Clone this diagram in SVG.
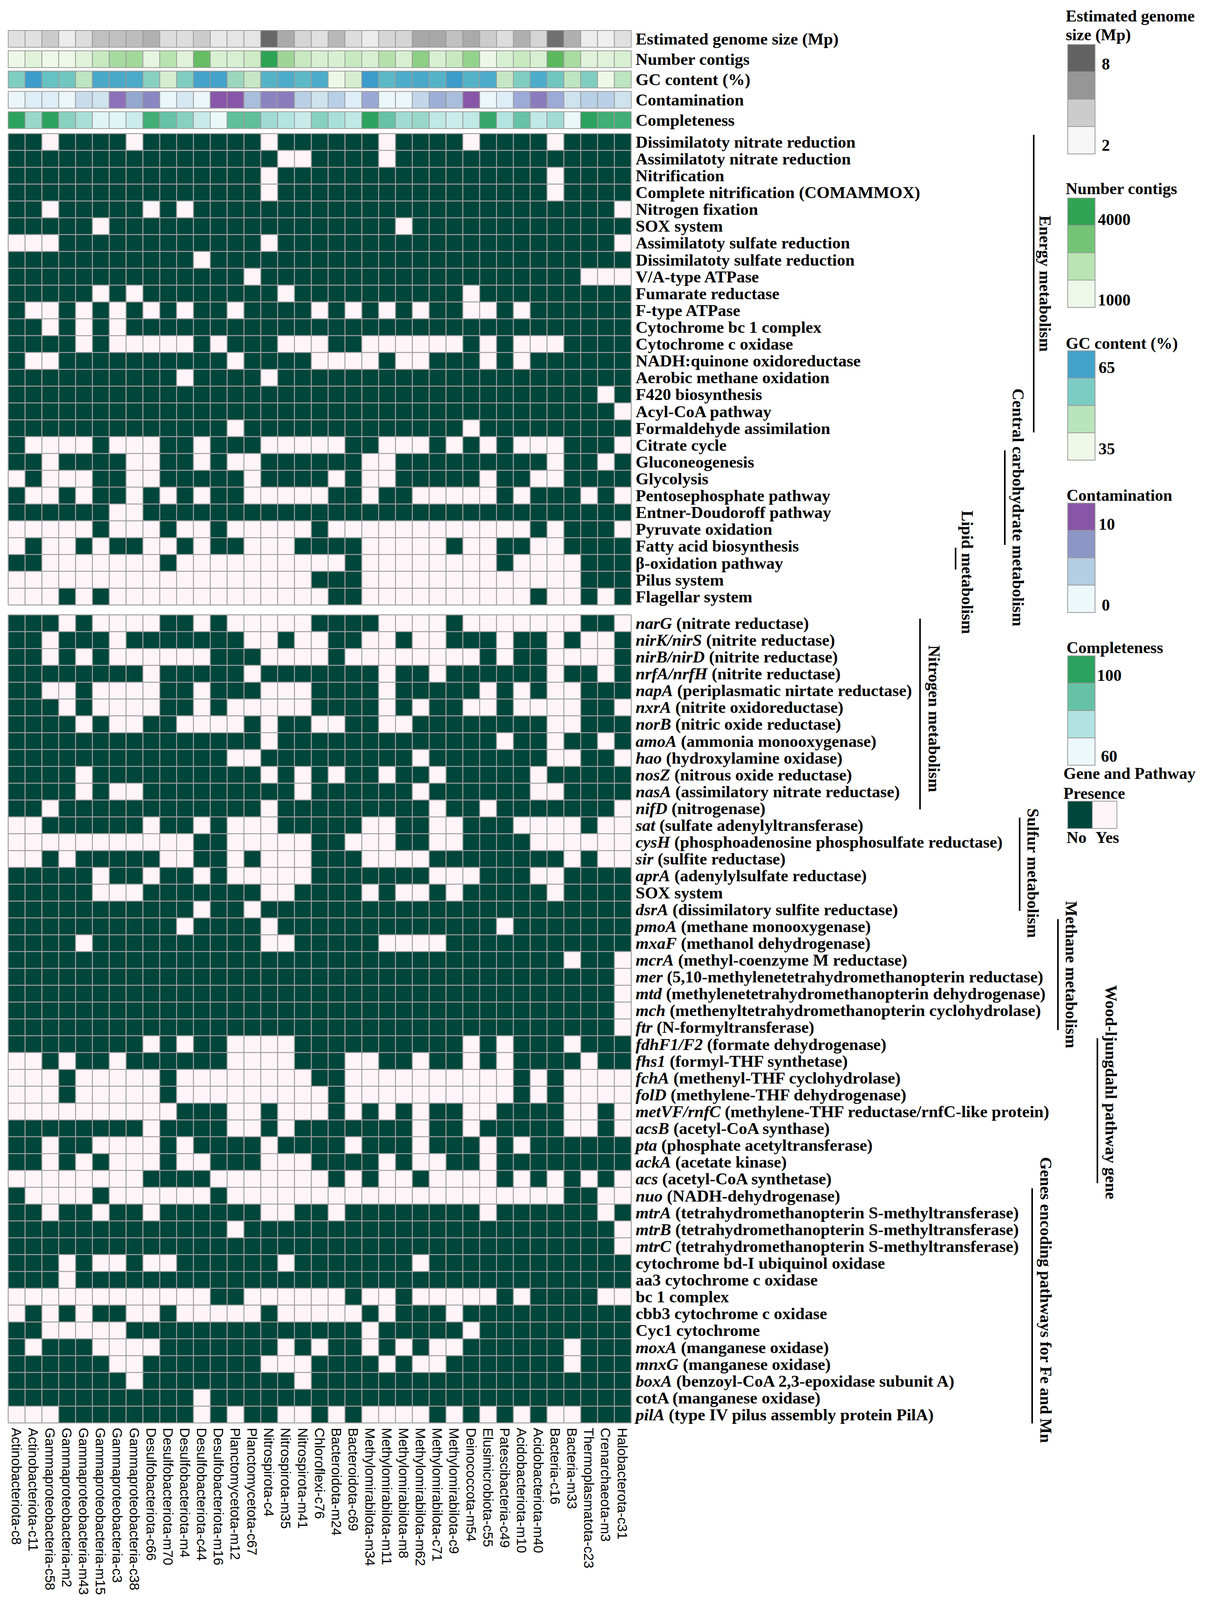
<svg xmlns="http://www.w3.org/2000/svg" width="3087" height="4148" viewBox="0 0 3087 4148">
<style>
.lbl{font-family:"Liberation Serif",serif;font-weight:bold;font-size:43px;fill:#000}
.leg{font-family:"Liberation Serif",serif;font-weight:bold;font-size:42px;fill:#000}
.cat{font-family:"Liberation Serif",serif;font-weight:bold;font-size:42px;fill:#000}
.col{font-family:"Liberation Sans",sans-serif;font-size:35px;fill:#000}
.an rect{stroke:#9a9a9a;stroke-width:2;vector-effect:non-scaling-stroke}
.dk{fill:#00463a}
.grid{fill:none;stroke:#a0a0a0;stroke-width:2.5;vector-effect:non-scaling-stroke}
.br{stroke:#000;stroke-width:4}
.lg rect{stroke:#999;stroke-width:2}
</style>
<rect width="3087" height="4148" fill="#fff"/>

<g id="annotations" class="an">
<g transform="translate(21,78) scale(43.1,43)">
<rect x="0" width="1" height="1" fill="#e0e0e0"/><rect x="1" width="1" height="1" fill="#e0e0e0"/><rect x="2" width="1" height="1" fill="#cccccc"/><rect x="3" width="1" height="1" fill="#ececec"/><rect x="4" width="1" height="1" fill="#dddddd"/><rect x="5" width="1" height="1" fill="#c0c0c0"/><rect x="6" width="1" height="1" fill="#c0c0c0"/><rect x="7" width="1" height="1" fill="#bdbdbd"/><rect x="8" width="1" height="1" fill="#b0b0b0"/><rect x="9" width="1" height="1" fill="#dddddd"/><rect x="10" width="1" height="1" fill="#dddddd"/><rect x="11" width="1" height="1" fill="#cccccc"/><rect x="12" width="1" height="1" fill="#e8e8e8"/><rect x="13" width="1" height="1" fill="#e5e5e5"/><rect x="14" width="1" height="1" fill="#e5e5e5"/><rect x="15" width="1" height="1" fill="#686868"/><rect x="16" width="1" height="1" fill="#aaaaaa"/><rect x="17" width="1" height="1" fill="#d5d5d5"/><rect x="18" width="1" height="1" fill="#e0e0e0"/><rect x="19" width="1" height="1" fill="#b8b8b8"/><rect x="20" width="1" height="1" fill="#dddddd"/><rect x="21" width="1" height="1" fill="#ececec"/><rect x="22" width="1" height="1" fill="#d5d5d5"/><rect x="23" width="1" height="1" fill="#d5d5d5"/><rect x="24" width="1" height="1" fill="#a8a8a8"/><rect x="25" width="1" height="1" fill="#a8a8a8"/><rect x="26" width="1" height="1" fill="#c0c0c0"/><rect x="27" width="1" height="1" fill="#aaaaaa"/><rect x="28" width="1" height="1" fill="#cccccc"/><rect x="29" width="1" height="1" fill="#dddddd"/><rect x="30" width="1" height="1" fill="#b0b0b0"/><rect x="31" width="1" height="1" fill="#d5d5d5"/><rect x="32" width="1" height="1" fill="#707070"/><rect x="33" width="1" height="1" fill="#b0b0b0"/><rect x="34" width="1" height="1" fill="#ececec"/><rect x="35" width="1" height="1" fill="#efefef"/><rect x="36" width="1" height="1" fill="#e0e0e0"/>
</g>
<g transform="translate(21,130) scale(43.1,43)">
<rect x="0" width="1" height="1" fill="#eef8e8"/><rect x="1" width="1" height="1" fill="#e0f3da"/><rect x="2" width="1" height="1" fill="#eef8e8"/><rect x="3" width="1" height="1" fill="#eef8e8"/><rect x="4" width="1" height="1" fill="#e0f3da"/><rect x="5" width="1" height="1" fill="#c7e9c0"/><rect x="6" width="1" height="1" fill="#a6dba0"/><rect x="7" width="1" height="1" fill="#a1d99b"/><rect x="8" width="1" height="1" fill="#e5f5e0"/><rect x="9" width="1" height="1" fill="#b8e3b0"/><rect x="10" width="1" height="1" fill="#e0f3da"/><rect x="11" width="1" height="1" fill="#66bd63"/><rect x="12" width="1" height="1" fill="#d8f0d2"/><rect x="13" width="1" height="1" fill="#d8f0d2"/><rect x="14" width="1" height="1" fill="#cdebc5"/><rect x="15" width="1" height="1" fill="#2ea354"/><rect x="16" width="1" height="1" fill="#9fd595"/><rect x="17" width="1" height="1" fill="#c7e9c0"/><rect x="18" width="1" height="1" fill="#d8f0d2"/><rect x="19" width="1" height="1" fill="#d8f0d2"/><rect x="20" width="1" height="1" fill="#c7e9c0"/><rect x="21" width="1" height="1" fill="#d8f0d2"/><rect x="22" width="1" height="1" fill="#b5e0ab"/><rect x="23" width="1" height="1" fill="#d8f0d2"/><rect x="24" width="1" height="1" fill="#8ecf86"/><rect x="25" width="1" height="1" fill="#d8f0d2"/><rect x="26" width="1" height="1" fill="#c7e9c0"/><rect x="27" width="1" height="1" fill="#93d38b"/><rect x="28" width="1" height="1" fill="#eef8e8"/><rect x="29" width="1" height="1" fill="#d8f0d2"/><rect x="30" width="1" height="1" fill="#c7e9c0"/><rect x="31" width="1" height="1" fill="#d8f0d2"/><rect x="32" width="1" height="1" fill="#5cb85c"/><rect x="33" width="1" height="1" fill="#a8dca0"/><rect x="34" width="1" height="1" fill="#e0f3da"/><rect x="35" width="1" height="1" fill="#e0f3da"/><rect x="36" width="1" height="1" fill="#d8f0d2"/>
</g>
<g transform="translate(21,182) scale(43.1,43)">
<rect x="0" width="1" height="1" fill="#7fcdc0"/><rect x="1" width="1" height="1" fill="#3c9ccc"/><rect x="2" width="1" height="1" fill="#67c2c4"/><rect x="3" width="1" height="1" fill="#71c6c0"/><rect x="4" width="1" height="1" fill="#bde5bf"/><rect x="5" width="1" height="1" fill="#4aa8c9"/><rect x="6" width="1" height="1" fill="#4aa8c9"/><rect x="7" width="1" height="1" fill="#4aaac8"/><rect x="8" width="1" height="1" fill="#87d0be"/><rect x="9" width="1" height="1" fill="#d6eecf"/><rect x="10" width="1" height="1" fill="#7fcdc0"/><rect x="11" width="1" height="1" fill="#44a2cb"/><rect x="12" width="1" height="1" fill="#44a2cb"/><rect x="13" width="1" height="1" fill="#9bd6bd"/><rect x="14" width="1" height="1" fill="#c5e7c3"/><rect x="15" width="1" height="1" fill="#55b3c8"/><rect x="16" width="1" height="1" fill="#4eaccb"/><rect x="17" width="1" height="1" fill="#5db8c6"/><rect x="18" width="1" height="1" fill="#4eaccb"/><rect x="19" width="1" height="1" fill="#eef8e6"/><rect x="20" width="1" height="1" fill="#d6eecf"/><rect x="21" width="1" height="1" fill="#3c9ccc"/><rect x="22" width="1" height="1" fill="#5db8c6"/><rect x="23" width="1" height="1" fill="#4eaccb"/><rect x="24" width="1" height="1" fill="#4aa8c9"/><rect x="25" width="1" height="1" fill="#55b3c8"/><rect x="26" width="1" height="1" fill="#3c9ccc"/><rect x="27" width="1" height="1" fill="#55b3c8"/><rect x="28" width="1" height="1" fill="#4eaccb"/><rect x="29" width="1" height="1" fill="#c5e7c3"/><rect x="30" width="1" height="1" fill="#7fcdc0"/><rect x="31" width="1" height="1" fill="#4eaccb"/><rect x="32" width="1" height="1" fill="#71c6c0"/><rect x="33" width="1" height="1" fill="#bde5bf"/><rect x="34" width="1" height="1" fill="#7fcdc0"/><rect x="35" width="1" height="1" fill="#eef8e6"/><rect x="36" width="1" height="1" fill="#bde5bf"/>
</g>
<g transform="translate(21,234) scale(43.1,43)">
<rect x="0" width="1" height="1" fill="#eaf6fa"/><rect x="1" width="1" height="1" fill="#ddeef6"/><rect x="2" width="1" height="1" fill="#ddeef6"/><rect x="3" width="1" height="1" fill="#eaf6fa"/><rect x="4" width="1" height="1" fill="#c8dcec"/><rect x="5" width="1" height="1" fill="#cfe3ef"/><rect x="6" width="1" height="1" fill="#8c70b8"/><rect x="7" width="1" height="1" fill="#94a8d0"/><rect x="8" width="1" height="1" fill="#8a86c0"/><rect x="9" width="1" height="1" fill="#eaf6fa"/><rect x="10" width="1" height="1" fill="#d6e8f2"/><rect x="11" width="1" height="1" fill="#eaf6fa"/><rect x="12" width="1" height="1" fill="#8856a8"/><rect x="13" width="1" height="1" fill="#8856a8"/><rect x="14" width="1" height="1" fill="#a8bedc"/><rect x="15" width="1" height="1" fill="#8c84c0"/><rect x="16" width="1" height="1" fill="#8a7cbc"/><rect x="17" width="1" height="1" fill="#b8d0e6"/><rect x="18" width="1" height="1" fill="#cfe3ef"/><rect x="19" width="1" height="1" fill="#b8d0e6"/><rect x="20" width="1" height="1" fill="#ddeef6"/><rect x="21" width="1" height="1" fill="#9aa8d4"/><rect x="22" width="1" height="1" fill="#eaf6fa"/><rect x="23" width="1" height="1" fill="#eaf6fa"/><rect x="24" width="1" height="1" fill="#c2d8ea"/><rect x="25" width="1" height="1" fill="#9cb0d6"/><rect x="26" width="1" height="1" fill="#a8bedc"/><rect x="27" width="1" height="1" fill="#8856a8"/><rect x="28" width="1" height="1" fill="#eaf6fa"/><rect x="29" width="1" height="1" fill="#ddeef6"/><rect x="30" width="1" height="1" fill="#9caad6"/><rect x="31" width="1" height="1" fill="#8a7cbc"/><rect x="32" width="1" height="1" fill="#9caad6"/><rect x="33" width="1" height="1" fill="#cfe3ef"/><rect x="34" width="1" height="1" fill="#b8d0e6"/><rect x="35" width="1" height="1" fill="#b8d0e6"/><rect x="36" width="1" height="1" fill="#cfe3ef"/>
</g>
<g transform="translate(21,286) scale(43.1,43)">
<rect x="0" width="1" height="1" fill="#2ca25f"/><rect x="1" width="1" height="1" fill="#99d8c9"/><rect x="2" width="1" height="1" fill="#2ca25f"/><rect x="3" width="1" height="1" fill="#88d0c0"/><rect x="4" width="1" height="1" fill="#a8e0d8"/><rect x="5" width="1" height="1" fill="#e0f5f5"/><rect x="6" width="1" height="1" fill="#e0f5f5"/><rect x="7" width="1" height="1" fill="#ccecec"/><rect x="8" width="1" height="1" fill="#41ae76"/><rect x="9" width="1" height="1" fill="#66c2a4"/><rect x="10" width="1" height="1" fill="#88d0c0"/><rect x="11" width="1" height="1" fill="#c8ebea"/><rect x="12" width="1" height="1" fill="#eaf8f8"/><rect x="13" width="1" height="1" fill="#5fbf9c"/><rect x="14" width="1" height="1" fill="#5fbf9c"/><rect x="15" width="1" height="1" fill="#a0dcd4"/><rect x="16" width="1" height="1" fill="#b4e4e0"/><rect x="17" width="1" height="1" fill="#c8ebea"/><rect x="18" width="1" height="1" fill="#88d0c0"/><rect x="19" width="1" height="1" fill="#a8e0d8"/><rect x="20" width="1" height="1" fill="#c0e8e4"/><rect x="21" width="1" height="1" fill="#2ca25f"/><rect x="22" width="1" height="1" fill="#66c2a4"/><rect x="23" width="1" height="1" fill="#a0dcd4"/><rect x="24" width="1" height="1" fill="#99d8c9"/><rect x="25" width="1" height="1" fill="#c0e8e4"/><rect x="26" width="1" height="1" fill="#ccecec"/><rect x="27" width="1" height="1" fill="#c0e8e4"/><rect x="28" width="1" height="1" fill="#38a86a"/><rect x="29" width="1" height="1" fill="#b4e4e0"/><rect x="30" width="1" height="1" fill="#66c2a4"/><rect x="31" width="1" height="1" fill="#c0e8e4"/><rect x="32" width="1" height="1" fill="#a0dcd4"/><rect x="33" width="1" height="1" fill="#eaf8f8"/><rect x="34" width="1" height="1" fill="#2ca25f"/><rect x="35" width="1" height="1" fill="#41ae76"/><rect x="36" width="1" height="1" fill="#41ae76"/>
</g>
</g>
<g id="annotation-labels" class="lbl">
<text x="1627" y="114">Estimated genome size (Mp)</text>
<text x="1627" y="166">Number contigs</text>
<text x="1627" y="218">GC content (%)</text>
<text x="1627" y="270">Contamination</text>
<text x="1627" y="322">Completeness</text>
</g>

<g id="heatmap-1" transform="translate(21,342) scale(43.1)">
<rect width="37" height="28" fill="#fff5f8"/>
<path class="dk" d="M0 0h2v1h-2zM3 0h4v1h-4zM8 0h7v1h-7zM16 0h6v1h-6zM23 0h4v1h-4zM28 0h4v1h-4zM33 0h4v1h-4z
M0 1h16v1h-16zM18 1h4v1h-4zM23 1h14v1h-14z
M0 2h15v1h-15zM16 2h16v1h-16zM33 2h4v1h-4z
M0 3h15v1h-15zM16 3h16v1h-16zM33 3h4v1h-4z
M0 4h2v1h-2zM3 4h5v1h-5zM9 4h1v1h-1zM11 4h25v1h-25z
M0 5h5v1h-5zM6 5h17v1h-17zM24 5h13v1h-13z
M3 6h12v1h-12zM16 6h20v1h-20z
M0 7h11v1h-11zM12 7h25v1h-25z
M0 8h14v1h-14zM15 8h19v1h-19z
M0 9h5v1h-5zM6 9h1v1h-1zM8 9h8v1h-8zM17 9h10v1h-10zM28 9h9v1h-9z
M0 10h1v1h-1zM3 10h1v1h-1zM5 10h1v1h-1zM7 10h1v1h-1zM9 10h1v1h-1zM11 10h2v1h-2zM14 10h4v1h-4zM19 10h1v1h-1zM21 10h1v1h-1zM23 10h1v1h-1zM25 10h2v1h-2zM29 10h1v1h-1zM31 10h6v1h-6z
M0 11h2v1h-2zM3 11h1v1h-1zM5 11h1v1h-1zM7 11h30v1h-30z
M0 12h4v1h-4zM5 12h1v1h-1zM11 12h1v1h-1zM13 12h3v1h-3zM19 12h2v1h-2zM27 12h1v1h-1zM29 12h1v1h-1zM33 12h4v1h-4z
M0 13h1v1h-1zM3 13h10v1h-10zM14 13h4v1h-4zM22 13h1v1h-1zM25 13h3v1h-3zM29 13h1v1h-1zM31 13h6v1h-6z
M0 14h10v1h-10zM11 14h4v1h-4zM16 14h21v1h-21z
M0 15h35v1h-35zM36 15h1v1h-1z
M0 16h36v1h-36z
M0 17h13v1h-13zM14 17h13v1h-13zM28 17h9v1h-9z
M0 18h1v1h-1zM5 18h1v1h-1zM9 18h2v1h-2zM12 18h3v1h-3zM20 18h2v1h-2zM25 18h1v1h-1zM27 18h1v1h-1zM29 18h1v1h-1zM33 18h3v1h-3z
M0 19h2v1h-2zM3 19h4v1h-4zM9 19h2v1h-2zM12 19h1v1h-1zM15 19h6v1h-6zM23 19h9v1h-9zM33 19h2v1h-2zM36 19h1v1h-1z
M1 20h1v1h-1zM5 20h2v1h-2zM9 20h5v1h-5zM15 20h4v1h-4zM20 20h1v1h-1zM23 20h5v1h-5zM29 20h2v1h-2zM33 20h4v1h-4z
M0 21h1v1h-1zM3 21h1v1h-1zM5 21h2v1h-2zM8 21h1v1h-1zM10 21h1v1h-1zM12 21h2v1h-2zM19 21h2v1h-2zM22 21h2v1h-2zM29 21h1v1h-1zM31 21h3v1h-3zM35 21h1v1h-1z
M0 22h6v1h-6zM8 22h29v1h-29z
M5 23h1v1h-1zM9 23h1v1h-1zM12 23h1v1h-1zM18 23h1v1h-1zM31 23h1v1h-1zM33 23h3v1h-3z
M1 24h1v1h-1zM4 24h1v1h-1zM6 24h2v1h-2zM10 24h1v1h-1zM12 24h2v1h-2zM17 24h4v1h-4zM26 24h1v1h-1zM29 24h2v1h-2zM33 24h4v1h-4z
M0 25h2v1h-2zM9 25h1v1h-1zM20 25h1v1h-1zM29 25h1v1h-1zM34 25h3v1h-3z
M18 26h3v1h-3zM34 26h3v1h-3z
M3 27h1v1h-1zM5 27h1v1h-1zM19 27h2v1h-2zM31 27h1v1h-1zM34 27h1v1h-1zM36 27h1v1h-1z"/>
<path class="grid" d="M0 0V28M1 0V28M2 0V28M3 0V28M4 0V28M5 0V28M6 0V28M7 0V28M8 0V28M9 0V28M10 0V28M11 0V28M12 0V28M13 0V28M14 0V28M15 0V28M16 0V28M17 0V28M18 0V28M19 0V28M20 0V28M21 0V28M22 0V28M23 0V28M24 0V28M25 0V28M26 0V28M27 0V28M28 0V28M29 0V28M30 0V28M31 0V28M32 0V28M33 0V28M34 0V28M35 0V28M36 0V28M37 0V28M0 0H37M0 1H37M0 2H37M0 3H37M0 4H37M0 5H37M0 6H37M0 7H37M0 8H37M0 9H37M0 10H37M0 11H37M0 12H37M0 13H37M0 14H37M0 15H37M0 16H37M0 17H37M0 18H37M0 19H37M0 20H37M0 21H37M0 22H37M0 23H37M0 24H37M0 25H37M0 26H37M0 27H37M0 28H37"/>
</g>

<g id="heatmap-2" transform="translate(21,1574) scale(43.1)">
<rect width="37" height="48" fill="#fff5f8"/>
<path class="dk" d="M0 0h3v1h-3zM4 0h1v1h-1zM9 0h2v1h-2zM12 0h1v1h-1zM18 0h4v1h-4zM26 0h1v1h-1zM34 0h2v1h-2z
M0 1h2v1h-2zM3 1h3v1h-3zM7 1h7v1h-7zM16 1h1v1h-1zM19 1h2v1h-2zM23 1h1v1h-1zM26 1h3v1h-3zM30 1h2v1h-2zM33 1h1v1h-1zM36 1h1v1h-1z
M0 2h2v1h-2zM3 2h1v1h-1zM5 2h1v1h-1zM12 2h3v1h-3zM19 2h1v1h-1zM28 2h1v1h-1zM30 2h2v1h-2zM36 2h1v1h-1z
M0 3h8v1h-8zM9 3h5v1h-5zM15 3h7v1h-7zM23 3h2v1h-2zM26 3h6v1h-6zM33 3h2v1h-2zM36 3h1v1h-1z
M0 4h2v1h-2zM4 4h1v1h-1zM9 4h2v1h-2zM12 4h3v1h-3zM18 4h4v1h-4zM23 4h5v1h-5zM29 4h1v1h-1zM31 4h1v1h-1zM34 4h3v1h-3z
M0 5h3v1h-3zM4 5h1v1h-1zM9 5h2v1h-2zM12 5h1v1h-1zM18 5h4v1h-4zM23 5h1v1h-1zM25 5h2v1h-2zM29 5h1v1h-1zM34 5h2v1h-2z
M0 6h4v1h-4zM5 6h1v1h-1zM8 6h2v1h-2zM14 6h1v1h-1zM16 6h2v1h-2zM20 6h2v1h-2zM24 6h8v1h-8zM34 6h3v1h-3z
M0 7h15v1h-15zM16 7h13v1h-13zM30 7h2v1h-2zM33 7h2v1h-2zM36 7h1v1h-1z
M0 8h13v1h-13zM15 8h9v1h-9zM25 8h7v1h-7zM34 8h2v1h-2z
M0 9h4v1h-4zM5 9h10v1h-10zM16 9h1v1h-1zM18 9h1v1h-1zM20 9h2v1h-2zM23 9h2v1h-2zM26 9h5v1h-5zM32 9h5v1h-5z
M0 10h4v1h-4zM5 10h1v1h-1zM8 10h9v1h-9zM18 10h6v1h-6zM25 10h6v1h-6zM33 10h4v1h-4z
M0 11h2v1h-2zM3 11h12v1h-12zM16 11h9v1h-9zM26 11h2v1h-2zM29 11h7v1h-7z
M2 12h6v1h-6zM9 12h2v1h-2zM12 12h1v1h-1zM16 12h5v1h-5zM23 12h2v1h-2zM27 12h3v1h-3zM34 12h1v1h-1z
M11 13h2v1h-2zM18 13h2v1h-2zM23 13h2v1h-2zM27 13h4v1h-4z
M2 14h1v1h-1zM4 14h5v1h-5zM11 14h2v1h-2zM14 14h1v1h-1zM18 14h3v1h-3zM25 14h8v1h-8zM34 14h1v1h-1z
M0 15h5v1h-5zM6 15h2v1h-2zM9 15h2v1h-2zM12 15h1v1h-1zM18 15h7v1h-7zM28 15h3v1h-3zM33 15h4v1h-4z
M0 16h5v1h-5zM8 16h7v1h-7zM17 16h4v1h-4zM22 16h1v1h-1zM25 16h1v1h-1zM27 16h5v1h-5zM33 16h4v1h-4z
M0 17h11v1h-11zM12 17h2v1h-2zM15 17h22v1h-22z
M0 18h10v1h-10zM11 18h4v1h-4zM16 18h13v1h-13zM30 18h7v1h-7z
M0 19h4v1h-4zM5 19h10v1h-10zM17 19h5v1h-5zM26 19h11v1h-11z
M0 20h33v1h-33zM34 20h2v1h-2z
M0 21h36v1h-36zM0 22h36v1h-36zM0 23h36v1h-36zM0 24h36v1h-36z
M0 25h8v1h-8zM9 25h1v1h-1zM11 25h2v1h-2zM17 25h10v1h-10zM28 25h1v1h-1zM30 25h3v1h-3zM34 25h3v1h-3z
M2 26h1v1h-1zM4 26h2v1h-2zM7 26h6v1h-6zM17 26h3v1h-3zM22 26h2v1h-2zM25 26h2v1h-2zM28 26h1v1h-1zM30 26h4v1h-4zM35 26h2v1h-2z
M3 27h1v1h-1zM9 27h1v1h-1zM18 27h2v1h-2zM30 27h1v1h-1zM32 27h1v1h-1z
M3 28h1v1h-1zM9 28h1v1h-1zM19 28h1v1h-1zM30 28h1v1h-1zM32 28h1v1h-1z
M10 29h3v1h-3zM15 29h1v1h-1zM19 29h1v1h-1zM21 29h1v1h-1zM23 29h1v1h-1zM25 29h2v1h-2zM29 29h4v1h-4zM35 29h1v1h-1z
M0 30h8v1h-8zM9 30h4v1h-4zM15 30h1v1h-1zM17 30h7v1h-7zM25 30h2v1h-2zM28 30h5v1h-5zM35 30h1v1h-1z
M0 31h2v1h-2zM3 31h2v1h-2zM9 31h1v1h-1zM11 31h4v1h-4zM16 31h4v1h-4zM21 31h3v1h-3zM25 31h3v1h-3zM29 31h1v1h-1zM31 31h6v1h-6z
M0 32h2v1h-2zM3 32h1v1h-1zM5 32h1v1h-1zM9 32h1v1h-1zM12 32h3v1h-3zM18 32h4v1h-4zM23 32h1v1h-1zM26 32h2v1h-2zM29 32h8v1h-8z
M8 33h4v1h-4zM19 33h1v1h-1zM21 33h1v1h-1zM24 33h1v1h-1zM29 33h1v1h-1zM31 33h1v1h-1zM33 33h1v1h-1zM35 33h1v1h-1z
M0 34h1v1h-1zM5 34h1v1h-1zM12 34h1v1h-1zM33 34h2v1h-2z
M0 35h2v1h-2zM3 35h2v1h-2zM6 35h2v1h-2zM9 35h6v1h-6zM17 35h2v1h-2zM20 35h8v1h-8zM29 35h6v1h-6zM36 35h1v1h-1z
M0 36h13v1h-13zM14 36h22v1h-22z
M0 37h36v1h-36z
M0 38h3v1h-3zM4 38h1v1h-1zM7 38h1v1h-1zM10 38h6v1h-6zM17 38h7v1h-7zM25 38h12v1h-12z
M0 39h3v1h-3zM4 39h33v1h-33z
M12 40h2v1h-2zM20 40h1v1h-1zM23 40h1v1h-1zM29 40h1v1h-1zM31 40h4v1h-4z
M1 41h1v1h-1zM3 41h1v1h-1zM5 41h2v1h-2zM9 41h1v1h-1zM15 41h1v1h-1zM21 41h1v1h-1zM23 41h3v1h-3zM27 41h10v1h-10z
M0 42h2v1h-2zM7 42h14v1h-14zM22 42h5v1h-5zM28 42h9v1h-9z
M0 43h1v1h-1zM2 43h3v1h-3zM9 43h7v1h-7zM17 43h1v1h-1zM19 43h2v1h-2zM22 43h1v1h-1zM24 43h1v1h-1zM27 43h6v1h-6zM34 43h3v1h-3z
M0 44h6v1h-6zM8 44h7v1h-7zM18 44h4v1h-4zM23 44h1v1h-1zM26 44h7v1h-7zM34 44h3v1h-3z
M0 45h7v1h-7zM8 45h9v1h-9zM18 45h19v1h-19z
M0 46h11v1h-11zM12 46h25v1h-25z
M3 47h8v1h-8zM12 47h1v1h-1zM14 47h2v1h-2zM18 47h1v1h-1zM20 47h1v1h-1zM25 47h1v1h-1zM27 47h1v1h-1zM29 47h1v1h-1zM31 47h1v1h-1zM34 47h3v1h-3z"/>
<path class="grid" d="M0 0V48M1 0V48M2 0V48M3 0V48M4 0V48M5 0V48M6 0V48M7 0V48M8 0V48M9 0V48M10 0V48M11 0V48M12 0V48M13 0V48M14 0V48M15 0V48M16 0V48M17 0V48M18 0V48M19 0V48M20 0V48M21 0V48M22 0V48M23 0V48M24 0V48M25 0V48M26 0V48M27 0V48M28 0V48M29 0V48M30 0V48M31 0V48M32 0V48M33 0V48M34 0V48M35 0V48M36 0V48M37 0V48M0 0H37M0 1H37M0 2H37M0 3H37M0 4H37M0 5H37M0 6H37M0 7H37M0 8H37M0 9H37M0 10H37M0 11H37M0 12H37M0 13H37M0 14H37M0 15H37M0 16H37M0 17H37M0 18H37M0 19H37M0 20H37M0 21H37M0 22H37M0 23H37M0 24H37M0 25H37M0 26H37M0 27H37M0 28H37M0 29H37M0 30H37M0 31H37M0 32H37M0 33H37M0 34H37M0 35H37M0 36H37M0 37H37M0 38H37M0 39H37M0 40H37M0 41H37M0 42H37M0 43H37M0 44H37M0 45H37M0 46H37M0 47H37M0 48H37"/>
</g>

<g id="row-labels-1" class="lbl">
<text x="1627" y="378">Dissimilatoty nitrate reduction</text>
<text x="1627" y="421">Assimilatoty nitrate reduction</text>
<text x="1627" y="464">Nitrification</text>
<text x="1627" y="507">Complete nitrification (COMAMMOX)</text>
<text x="1627" y="550">Nitrogen fixation</text>
<text x="1627" y="593">SOX system</text>
<text x="1627" y="636">Assimilatoty sulfate reduction</text>
<text x="1627" y="680">Dissimilatoty sulfate reduction</text>
<text x="1627" y="723">V/A-type ATPase</text>
<text x="1627" y="766">Fumarate reductase</text>
<text x="1627" y="809">F-type ATPase</text>
<text x="1627" y="852">Cytochrome bc 1 complex</text>
<text x="1627" y="895">Cytochrome c oxidase</text>
<text x="1627" y="938">NADH:quinone oxidoreductase</text>
<text x="1627" y="981">Aerobic methane oxidation</text>
<text x="1627" y="1024">F420 biosynthesis</text>
<text x="1627" y="1068">Acyl-CoA pathway</text>
<text x="1627" y="1111">Formaldehyde assimilation</text>
<text x="1627" y="1154">Citrate cycle</text>
<text x="1627" y="1197">Gluconeogenesis</text>
<text x="1627" y="1240">Glycolysis</text>
<text x="1627" y="1283">Pentosephosphate pathway</text>
<text x="1627" y="1326">Entner-Doudoroff pathway</text>
<text x="1627" y="1369">Pyruvate oxidation</text>
<text x="1627" y="1412">Fatty acid biosynthesis</text>
<text x="1627" y="1456">β-oxidation pathway</text>
<text x="1627" y="1499">Pilus system</text>
<text x="1627" y="1542">Flagellar system</text>
</g>

<g id="row-labels-2" class="lbl">
<text x="1627" y="1610"><tspan font-style="italic">narG</tspan> (nitrate reductase)</text>
<text x="1627" y="1653"><tspan font-style="italic">nirK/nirS</tspan> (nitrite reductase)</text>
<text x="1627" y="1696"><tspan font-style="italic">nirB/nirD</tspan> (nitrite reductase)</text>
<text x="1627" y="1739"><tspan font-style="italic">nrfA/nrfH</tspan> (nitrite reductase)</text>
<text x="1627" y="1782"><tspan font-style="italic">napA</tspan> (periplasmatic nirtate reductase)</text>
<text x="1627" y="1825"><tspan font-style="italic">nxrA</tspan> (nitrite oxidoreductase)</text>
<text x="1627" y="1868"><tspan font-style="italic">norB</tspan> (nitric oxide reductase)</text>
<text x="1627" y="1912"><tspan font-style="italic">amoA</tspan> (ammonia monooxygenase)</text>
<text x="1627" y="1955"><tspan font-style="italic">hao</tspan> (hydroxylamine oxidase)</text>
<text x="1627" y="1998"><tspan font-style="italic">nosZ</tspan> (nitrous oxide reductase)</text>
<text x="1627" y="2041"><tspan font-style="italic">nasA</tspan> (assimilatory nitrate reductase)</text>
<text x="1627" y="2084"><tspan font-style="italic">nifD</tspan> (nitrogenase)</text>
<text x="1627" y="2127"><tspan font-style="italic">sat</tspan> (sulfate adenylyltransferase)</text>
<text x="1627" y="2170"><tspan font-style="italic">cysH</tspan> (phosphoadenosine phosphosulfate reductase)</text>
<text x="1627" y="2213"><tspan font-style="italic">sir</tspan> (sulfite reductase)</text>
<text x="1627" y="2256"><tspan font-style="italic">aprA</tspan> (adenylylsulfate reductase)</text>
<text x="1627" y="2300">SOX system</text>
<text x="1627" y="2343"><tspan font-style="italic">dsrA</tspan> (dissimilatory sulfite reductase)</text>
<text x="1627" y="2386"><tspan font-style="italic">pmoA</tspan> (methane monooxygenase)</text>
<text x="1627" y="2429"><tspan font-style="italic">mxaF</tspan> (methanol dehydrogenase)</text>
<text x="1627" y="2472"><tspan font-style="italic">mcrA</tspan> (methyl-coenzyme M reductase)</text>
<text x="1627" y="2515"><tspan font-style="italic">mer</tspan> (5,10-methylenetetrahydromethanopterin reductase)</text>
<text x="1627" y="2558"><tspan font-style="italic">mtd</tspan> (methylenetetrahydromethanopterin dehydrogenase)</text>
<text x="1627" y="2601"><tspan font-style="italic">mch</tspan> (methenyltetrahydromethanopterin cyclohydrolase)</text>
<text x="1627" y="2644"><tspan font-style="italic">ftr</tspan> (N-formyltransferase)</text>
<text x="1627" y="2688"><tspan font-style="italic">fdhF1/F2</tspan> (formate dehydrogenase)</text>
<text x="1627" y="2731"><tspan font-style="italic">fhs1</tspan> (formyl-THF synthetase)</text>
<text x="1627" y="2774"><tspan font-style="italic">fchA</tspan> (methenyl-THF cyclohydrolase)</text>
<text x="1627" y="2817"><tspan font-style="italic">folD</tspan> (methylene-THF dehydrogenase)</text>
<text x="1627" y="2860"><tspan font-style="italic">metVF/rnfC</tspan> (methylene-THF reductase/rnfC-like protein)</text>
<text x="1627" y="2903"><tspan font-style="italic">acsB</tspan> (acetyl-CoA synthase)</text>
<text x="1627" y="2946"><tspan font-style="italic">pta</tspan> (phosphate acetyltransferase)</text>
<text x="1627" y="2989"><tspan font-style="italic">ackA</tspan> (acetate kinase)</text>
<text x="1627" y="3032"><tspan font-style="italic">acs</tspan> (acetyl-CoA synthetase)</text>
<text x="1627" y="3076"><tspan font-style="italic">nuo</tspan> (NADH-dehydrogenase)</text>
<text x="1627" y="3119"><tspan font-style="italic">mtrA</tspan> (tetrahydromethanopterin S-methyltransferase)</text>
<text x="1627" y="3162"><tspan font-style="italic">mtrB</tspan> (tetrahydromethanopterin S-methyltransferase)</text>
<text x="1627" y="3205"><tspan font-style="italic">mtrC</tspan> (tetrahydromethanopterin S-methyltransferase)</text>
<text x="1627" y="3248">cytochrome bd-I ubiquinol oxidase</text>
<text x="1627" y="3291">aa3 cytochrome c oxidase</text>
<text x="1627" y="3334">bc 1 complex</text>
<text x="1627" y="3377">cbb3 cytochrome c oxidase</text>
<text x="1627" y="3420">Cyc1 cytochrome</text>
<text x="1627" y="3464"><tspan font-style="italic">moxA</tspan> (manganese oxidase)</text>
<text x="1627" y="3507"><tspan font-style="italic">mnxG</tspan> (manganese oxidase)</text>
<text x="1627" y="3550"><tspan font-style="italic">boxA</tspan> (benzoyl-CoA 2,3-epoxidase subunit A)</text>
<text x="1627" y="3593">cotA (manganese oxidase)</text>
<text x="1627" y="3636"><tspan font-style="italic">pilA</tspan> (type IV pilus assembly protein PilA)</text>
</g>

<g id="column-labels" class="col">
<text transform="translate(30,3655) rotate(90)">Actinobacteriota-c8</text>
<text transform="translate(73,3655) rotate(90)">Actinobacteriota-c11</text>
<text transform="translate(116,3655) rotate(90)">Gammaproteobacteria-c58</text>
<text transform="translate(159,3655) rotate(90)">Gammaproteobacteria-m2</text>
<text transform="translate(202,3655) rotate(90)">Gammaproteobacteria-m43</text>
<text transform="translate(245,3655) rotate(90)">Gammaproteobacteria-m15</text>
<text transform="translate(288,3655) rotate(90)">Gammaproteobacteria-c3</text>
<text transform="translate(332,3655) rotate(90)">Gammaproteobacteria-c38</text>
<text transform="translate(375,3655) rotate(90)">Desulfobacteriota-c66</text>
<text transform="translate(418,3655) rotate(90)">Desulfobacteriota-m70</text>
<text transform="translate(461,3655) rotate(90)">Desulfobacteriota-m4</text>
<text transform="translate(504,3655) rotate(90)">Desulfobacteriota-c44</text>
<text transform="translate(547,3655) rotate(90)">Desulfobacteriota-m16</text>
<text transform="translate(590,3655) rotate(90)">Planctomycetota-m12</text>
<text transform="translate(633,3655) rotate(90)">Planctomycetota-c67</text>
<text transform="translate(676,3655) rotate(90)">Nitrospirota-c4</text>
<text transform="translate(719,3655) rotate(90)">Nitrospirota-m35</text>
<text transform="translate(763,3655) rotate(90)">Nitrospirota-m41</text>
<text transform="translate(806,3655) rotate(90)">Chloroflexi-c76</text>
<text transform="translate(849,3655) rotate(90)">Bacteroidota-m24</text>
<text transform="translate(892,3655) rotate(90)">Bacteroidota-c69</text>
<text transform="translate(935,3655) rotate(90)">Methylomirabilota-m34</text>
<text transform="translate(978,3655) rotate(90)">Methylomirabilota-m11</text>
<text transform="translate(1021,3655) rotate(90)">Methylomirabilota-m8</text>
<text transform="translate(1064,3655) rotate(90)">Methylomirabilota-m62</text>
<text transform="translate(1107,3655) rotate(90)">Methylomirabilota-c71</text>
<text transform="translate(1150,3655) rotate(90)">Methylomirabilota-c9</text>
<text transform="translate(1194,3655) rotate(90)">Deinococcota-m54</text>
<text transform="translate(1237,3655) rotate(90)">Elusimicrobiota-c55</text>
<text transform="translate(1280,3655) rotate(90)">Patescibacteria-c49</text>
<text transform="translate(1323,3655) rotate(90)">Acidobacteriota-m10</text>
<text transform="translate(1366,3655) rotate(90)">Acidobacteriota-m40</text>
<text transform="translate(1409,3655) rotate(90)">Bacteria-c16</text>
<text transform="translate(1452,3655) rotate(90)">Bacteria-m33</text>
<text transform="translate(1495,3655) rotate(90)">Thermoplasmatota-c23</text>
<text transform="translate(1538,3655) rotate(90)">Crenarchaeota-m3</text>
<text transform="translate(1581,3655) rotate(90)">Halobacterota-c31</text>
</g>

<g id="categories">
<g class="br">
<line x1="2646" y1="345" x2="2646" y2="1107"/>
<line x1="2572" y1="1153" x2="2572" y2="1395"/>
<line x1="2446" y1="1402" x2="2446" y2="1458"/>
<line x1="2355" y1="1584" x2="2355" y2="2072"/>
<line x1="2610" y1="2093" x2="2610" y2="2332"/>
<line x1="2708" y1="2353" x2="2708" y2="2637"/>
<line x1="2809" y1="2658" x2="2809" y2="3029"/>
<line x1="2642" y1="3042" x2="2642" y2="3644"/>
</g>
<g class="cat" text-anchor="middle">
<text transform="translate(2661,726) rotate(90)">Energy metabolism</text>
<text transform="translate(2592,1299) rotate(90)">Central carbohydrate metabolism</text>
<text transform="translate(2462,1465) rotate(90)">Lipid metabolism</text>
<text transform="translate(2377,1840) rotate(90)">Nitrogen metabolism</text>
<text transform="translate(2630,2235) rotate(90)">Sulfur metabolism</text>
<text transform="translate(2728,2495) rotate(90)">Methane metabolism</text>
<text transform="translate(2830,2796) rotate(90)">Wood-ljungdahl pathway gene</text>
<text transform="translate(2663,3328) rotate(90)">Genes encoding pathways for Fe and Mn</text>
</g>
</g>

<g id="legend" class="leg">
<g class="lg">
<rect x="2733" y="114" width="70" height="70" fill="#636363"/><rect x="2733" y="184" width="70" height="70" fill="#969696"/><rect x="2733" y="254" width="70" height="70" fill="#cccccc"/><rect x="2733" y="324" width="70" height="70" fill="#f7f7f7"/>
<rect x="2733" y="507" width="70" height="70" fill="#31a354"/><rect x="2733" y="577" width="70" height="70" fill="#74c476"/><rect x="2733" y="647" width="70" height="70" fill="#bae4b3"/><rect x="2733" y="717" width="70" height="70" fill="#edf8e9"/>
<rect x="2733" y="898" width="70" height="70" fill="#43a2ca"/><rect x="2733" y="968" width="70" height="70" fill="#7bccc4"/><rect x="2733" y="1038" width="70" height="70" fill="#bae4bc"/><rect x="2733" y="1108" width="70" height="70" fill="#f0f9e8"/>
<rect x="2733" y="1288" width="70" height="70" fill="#8856a7"/><rect x="2733" y="1358" width="70" height="70" fill="#8c96c6"/><rect x="2733" y="1428" width="70" height="70" fill="#b3cde3"/><rect x="2733" y="1498" width="70" height="70" fill="#edf8fb"/>
<rect x="2733" y="1679" width="70" height="70" fill="#2ca25f"/><rect x="2733" y="1749" width="70" height="70" fill="#66c2a4"/><rect x="2733" y="1819" width="70" height="70" fill="#b2e2e2"/><rect x="2733" y="1889" width="70" height="70" fill="#edf8fb"/>
<rect x="2733" y="2051" width="63" height="70" fill="#00463a"/><rect x="2796" y="2051" width="63" height="70" fill="#fff5f8"/>
</g>
<text x="2728" y="55">Estimated genome</text>
<text x="2728" y="103">size (Mp)</text>
<text x="2820" y="178">8</text>
<text x="2820" y="386">2</text>
<text x="2728" y="497">Number contigs</text>
<text x="2810" y="576">4000</text>
<text x="2810" y="782">1000</text>
<text x="2728" y="893">GC content (%)</text>
<text x="2812" y="955">65</text>
<text x="2812" y="1163">35</text>
<text x="2730" y="1282">Contamination</text>
<text x="2812" y="1356">10</text>
<text x="2820" y="1563">0</text>
<text x="2730" y="1672">Completeness</text>
<text x="2808" y="1743">100</text>
<text x="2818" y="1950">60</text>
<text x="2722" y="1994">Gene and Pathway</text>
<text x="2722" y="2045">Presence</text>
<text x="2730" y="2158">No</text>
<text x="2804" y="2158">Yes</text>
</g>
</svg>
